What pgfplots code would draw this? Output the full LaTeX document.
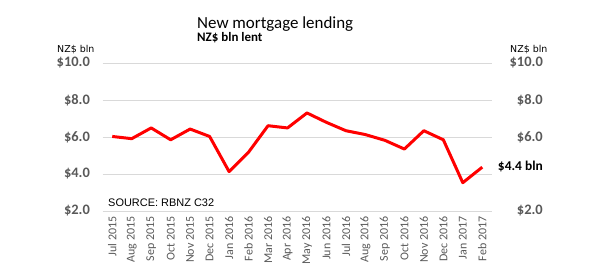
\documentclass[border=0pt]{standalone}
\usepackage{fontspec}
\setmainfont{Carlito}
\newfontfamily\arialf{Liberation Sans}
\newfontfamily\dejavu{DejaVu Sans}
\usepackage{pgfplots}
\pgfplotsset{compat=1.18}
\definecolor{gridc}{RGB}{217,217,217}
\definecolor{labc}{RGB}{89,89,89}
\begin{document}
\begin{tikzpicture}[x=1bp,y=1bp]
\useasboundingbox (0,0) rectangle (600,275);
\begin{axis}[
  at={(102.5bp,64bp)}, anchor=south west, scale only axis,
  width=389.5bp, height=148bp,
  xmin=-0.5, xmax=19.5, ymin=2, ymax=10,
  axis x line=bottom, axis y line=left,
  axis line style={draw=none}, tick style={draw=none},
  ymajorgrids, grid style={gridc, line width=0.8bp},
  ytick={2,4,6,8,10},
  yticklabels={\$2.0,\$4.0,\$6.0,\$8.0,\$10.0},
  yticklabel style={font=\bfseries\fontsize{14.5}{14.5}\selectfont, text=labc, xshift=-7bp},
  xtick={0,...,19},
  xticklabels={Jul 2015,Aug 2015,Sep 2015,Oct 2015,Nov 2015,Dec 2015,Jan 2016,Feb 2016,Mar 2016,Apr 2016,May 2016,Jun 2016,Jul 2016,Aug 2016,Sep 2016,Oct 2016,Nov 2016,Dec 2016,Jan 2017,Feb 2017},
  xticklabel style={rotate=90, anchor=east, font=\fontsize{12}{12}\selectfont, text=labc},
]
\addplot[red, line width=3bp, line join=round] coordinates {
(0,6.03) (1,5.91) (2,6.49) (3,5.85) (4,6.43) (5,6.03) (6,4.13) (7,5.18) (8,6.61) (9,6.49)
(10,7.30) (11,6.79) (12,6.34) (13,6.13) (14,5.82) (15,5.35) (16,6.34) (17,5.85) (18,3.53) (19,4.37)
};
\end{axis}
\begin{axis}[
  at={(102.5bp,64bp)}, anchor=south west, scale only axis,
  width=389.5bp, height=148bp,
  xmin=-0.5, xmax=19.5, ymin=2, ymax=10,
  axis x line=none, axis y line*=right,
  axis line style={draw=none}, tick style={draw=none},
  ytick={2,6,8,10},
  yticklabels={\$2.0,\$6.0,\$8.0,\$10.0},
  yticklabel style={font=\bfseries\fontsize{14.5}{14.5}\selectfont, text=labc, anchor=east, inner sep=0pt, xshift=51bp},
  extra y ticks={4.4},
  extra y tick labels={\$4.4 bln},
  extra y tick style={yticklabel style={text=black, font=\bfseries\fontsize{13.5}{13.5}\selectfont}},
]
\addplot[draw=none] coordinates {(0,2) (19,2)};
\end{axis}
\node[anchor=base west, font=\fontsize{17}{17}\selectfont, inner sep=0pt] at (197,247) {New mortgage lending};
\node[anchor=base west, font=\bfseries\fontsize{13}{13}\selectfont, inner sep=0pt] at (197,233.5) {NZ\$ bln lent};
\node[anchor=base west, font=\dejavu\fontsize{9.5}{9.5}\selectfont, inner sep=0pt] at (57,223) {NZ\$ bln};
\node[anchor=base west, font=\dejavu\fontsize{9.5}{9.5}\selectfont, inner sep=0pt] at (510,223) {NZ\$ bln};
\node[anchor=base west, font=\arialf\fontsize{11}{11}\selectfont, inner sep=0pt] at (108,68.3) {SOURCE: RBNZ C32};
\end{tikzpicture}
\end{document}
